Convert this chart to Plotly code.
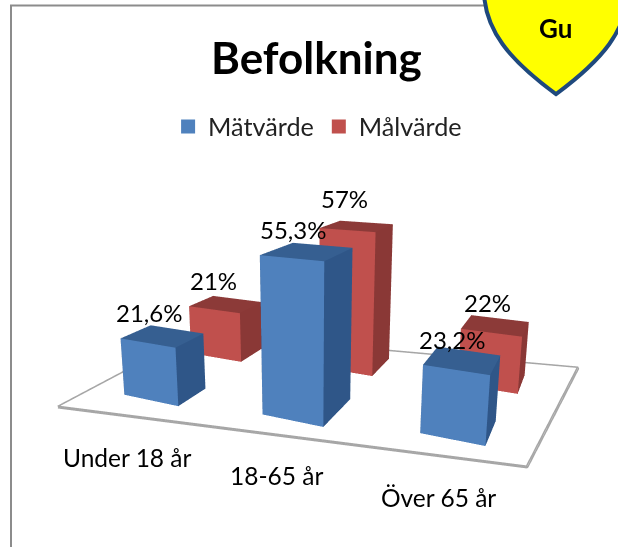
import plotly.graph_objects as go

categories = ["Under 18 år", "18-65 år", "Över 65 år"]
series_names = ["Mätvärde", "Målvärde"]
matvarde = [21.6, 55.3, 23.2]
malvarde = [21, 57, 22]
label_matvarde = ["21,6%", "55,3%", "23,2%"]
label_malvarde = ["21%", "57%", "22%"]

FONT = "Lato, Carlito, Calibri, sans-serif"
CAT_POS = [0.0, 1.1336, 2.0784]
# footprints (x0, x1, y0, y1) per series, per category, on the scene's floor
FOOTPRINTS = [
    [(0.331, 0.788, 0.181, 0.525), (1.365, 1.799, 0.311, 0.798), (2.374, 2.769, 0.491, 0.869)],
    [(0.269, 0.746, 1.127, 1.501), (1.358, 1.796, 1.286, 1.711), (2.416, 2.837, 1.404, 1.796)],
]
FLOOR_X = [0.061, 3.022, 3.194, 0.018]
FLOOR_Y = [-0.183, 0.335, 2.152, 1.589]
STYLES = [
    dict(front="#4F81BD", top="#365F91", side="#2F5688"),
    dict(front="#C0504D", top="#8C3A38", side="#8A3836"),
]
SHIFT_SERIES = [[(-13, 23), (-14, 22), (-10, 21)], [(-12, 24), (-12, 28), (-8, 23)]]
SHIFT_CAT = [(0, -49), (-2, -33), (5, -21)]

def bar_mesh(values, s, style, name):
    xs, ys, zs, i, j, k, fc = [], [], [], [], [], [], []
    for c, v in enumerate(values):
        n = len(xs)
        x0, x1, y0, y1 = FOOTPRINTS[s][c]
        for z in (0, v):
            for x, y in ((x0, y0), (x1, y0), (x1, y1), (x0, y1)):
                xs.append(x); ys.append(y); zs.append(z)
        quads = [((0, 1, 5, 4), style["front"]), ((1, 2, 6, 5), style["side"]), ((4, 5, 6, 7), style["top"]),
                 ((3, 0, 4, 7), style["side"]), ((2, 3, 7, 6), style["side"])]
        for (a, b, cc, d), col in quads:
            i += [n + a, n + a]; j += [n + b, n + cc]; k += [n + cc, n + d]; fc += [col, col]
    return go.Mesh3d(x=xs, y=ys, z=zs, i=i, j=j, k=k, facecolor=fc, flatshading=True, name=name,
                     lighting=dict(ambient=1, diffuse=0, specular=0, fresnel=0), hoverinfo="skip", showlegend=False)

fig = go.Figure()
fig.add_trace(go.Mesh3d(x=FLOOR_X, y=FLOOR_Y, z=[0, 0, 0, 0], i=[0, 0], j=[1, 2], k=[2, 3], color="white",
                        lighting=dict(ambient=1, diffuse=0, specular=0), hoverinfo="skip", showlegend=False))
fig.add_trace(go.Scatter3d(x=FLOOR_X + FLOOR_X[:1], y=FLOOR_Y + FLOOR_Y[:1], z=[0, 0, 0, 0, 0], mode="lines",
                           line=dict(color="#A6A6A6", width=6), hoverinfo="skip", showlegend=False))
fig.add_trace(bar_mesh(malvarde, 1, STYLES[1], series_names[1]))
fig.add_trace(bar_mesh(matvarde, 0, STYLES[0], series_names[0]))
for nm, st in zip(series_names, STYLES):
    fig.add_trace(go.Scatter3d(x=[None], y=[None], z=[None], mode="markers", name=nm,
                               marker=dict(symbol="square", size=14, color=st["front"])))

ann = []
for s, (values, labels) in enumerate([(matvarde, label_matvarde), (malvarde, label_malvarde)]):
    for c, (v, t) in enumerate(zip(values, labels)):
        dx, dy = SHIFT_SERIES[s][c]
        x0, x1, y0, y1 = FOOTPRINTS[s][c]
        ann.append(dict(x=(x0 + x1) / 2, y=(y0 + y1) / 2, z=v, text=t, showarrow=False, xshift=dx, yshift=dy,
                        xanchor="center", yanchor="middle", font=dict(family=FONT, size=24, color="black")))
for c, t in enumerate(categories):
    dx, dy = SHIFT_CAT[c]
    ann.append(dict(x=CAT_POS[c] + .5, y=0, z=0, text=t, showarrow=False, xshift=dx, yshift=dy,
                    xanchor="center", yanchor="middle", font=dict(family=FONT, size=24.5, color="black")))

axis = dict(visible=False, showgrid=False, zeroline=False, showbackground=False, showspikes=False)
fig.update_layout(
    width=618, height=547, margin=dict(l=0, r=0, t=0, b=0), paper_bgcolor="white",
    scene=dict(
        domain=dict(x=[0, 1], y=[0, 1]),
        xaxis=dict(axis, range=[-0.5, 3.5]), yaxis=dict(axis, range=[-0.5, 2.5]), zaxis=dict(axis, range=[0, 60]),
        aspectmode="manual", aspectratio=dict(x=1.6912, y=1.2111, z=0.4882),
        camera=dict(eye=dict(x=0.7664, y=-1.762, z=0.5494), center=dict(x=-0.1226, y=0.1724, z=0.0553),
                    up=dict(x=0, y=0, z=1)),
        annotations=ann,
    ),
    title=dict(text="<b>Befolkning</b>", x=0.512, xanchor="center", y=0.893, yanchor="middle",
               font=dict(family=FONT, size=44, color="black")),
    legend=dict(orientation="h", x=0.272, y=0.7685, xanchor="left", yanchor="middle", font=dict(family=FONT, size=25.2, color="#222"),
                bgcolor="rgba(0,0,0,0)"),
    shapes=[
        dict(type="path", xref="paper", yref="paper",
             path="M 0.0178 0 L 0.0178 0.99 L 0.785 0.99", line=dict(color="#8C8C8C", width=2), layer="below"),
        dict(type="path", xref="paper", yref="paper",
             path="M 0.783 1.02 C 0.783 0.945 0.825 0.89 0.8997 0.828 C 0.974 0.89 1.016 0.945 1.016 1.02 Z",
             fillcolor="#FFFF00", line=dict(color="#1F497D", width=4)),
    ],
    annotations=[dict(xref="paper", yref="paper", x=0.899, y=0.949, text="<b>Gu</b>", showarrow=False, xanchor="center", yanchor="middle",
                      font=dict(family=FONT, size=26, color="black"))],
)
fig.write_html("out.html", config=dict(displayModeBar=False), post_script="document.body.style.margin='0';")
